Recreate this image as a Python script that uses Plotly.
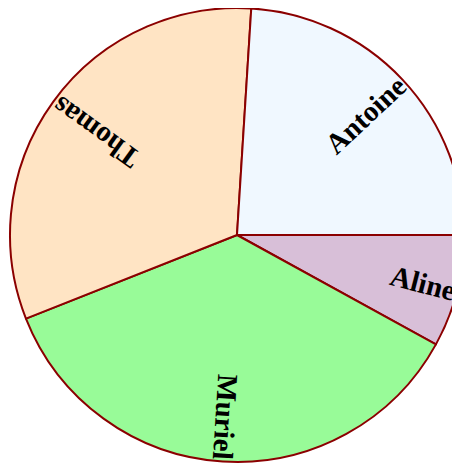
import math
import plotly.graph_objects as go

labels = ["Aline", "Muriel", "Thomas", "Antoine"]
values = [8, 36, 32, 24]
colors = ["#D8BFD8", "#98FB98", "#FFE4C4", "#F0F8FF"]

W, H = 460, 463
# pie placement (figure pixels)
R = 227
cx, cy = 229, 227
x0, x1 = cx - R, cx + R
ytop, ybot = cy - R, cy + R

FS = 29
FONT = "Liberation Serif"
# approximate bold-serif advance widths (per 1000 em) for label width estimates
CW = {"A": 722, "n": 556, "t": 333, "o": 500, "i": 278, "e": 444, "l": 278,
      "M": 943, "u": 556, "r": 444, "T": 667, "h": 556, "m": 833, "a": 500, "s": 389}

fig = go.Figure(go.Pie(
    labels=labels, values=values, sort=False, direction="clockwise", rotation=90,
    marker=dict(colors=colors, line=dict(color="#8B0000", width=2)),
    textinfo="none", hoverinfo="label+value", showlegend=False,
    domain=dict(x=[x0 / W, x1 / W], y=[1 - ybot / H, 1 - ytop / H]),
))

total = sum(values)
cum = 0
for lab, v in zip(labels, values):
    mid = (cum + v / 2) / total * 360.0
    cum += v
    th = math.radians(mid)
    tlen = sum(CW.get(c, 550) for c in lab) / 1000.0 * FS
    rc = R - 2 - tlen / 2
    px = cx + rc * math.cos(th)
    py = cy + rc * math.sin(th)
    fig.add_annotation(
        x=px / W, y=1 - py / H, xref="paper", yref="paper",
        text="<b>" + lab + "</b>", showarrow=False, textangle=mid,
        xanchor="center", yanchor="middle",
        font=dict(family=FONT, size=FS, color="black"),
    )

fig.update_layout(
    width=W, height=H, margin=dict(l=0, r=0, t=0, b=0),
    paper_bgcolor="white", plot_bgcolor="white",
)
fig.write_html("out.html")
